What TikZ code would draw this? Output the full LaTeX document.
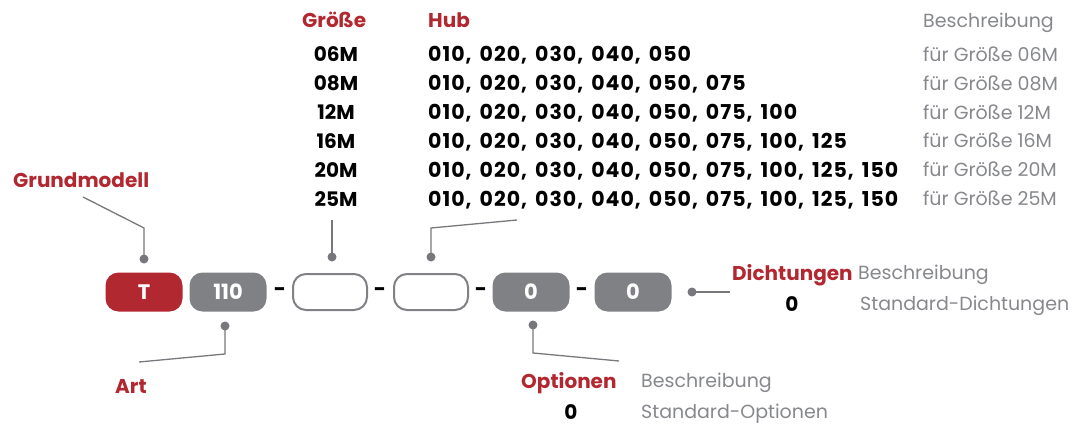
\documentclass[tikz,border=0pt]{standalone}
\usepackage{fontspec}
\setmainfont{Poppins}
\newfontfamily\hubfont[WordSpace=1.5,LetterSpace=5]{Poppins}
\definecolor{brandred}{RGB}{178,40,48}
\definecolor{boxgray}{RGB}{128,129,133}
\definecolor{txtgray}{RGB}{135,136,140}
\definecolor{linegray}{RGB}{120,120,124}
\tikzset{
  filledbox/.style={rounded corners=13pt, minimum width=77pt, minimum height=39pt, inner sep=0pt, text=white, font=\bfseries\fontsize{21}{21}\selectfont},
  redbox/.style={filledbox, fill=brandred},
  graybox/.style={filledbox, fill=boxgray},
  emptybox/.style={rounded corners=13pt, minimum width=74pt, minimum height=36pt, inner sep=0pt, draw=boxgray, line width=2pt, fill=white},
  sep/.style={inner sep=0pt, font=\bfseries\fontsize{21}{21}\selectfont},
  dotnode/.style={circle, fill=linegray, inner sep=0pt, minimum size=9pt},
  conn/.style={draw=linegray, line width=1.3pt},
  head/.style={text=brandred, inner sep=0pt, text height=14pt, text depth=0pt, font=\bfseries\fontsize{20}{20}\selectfont},
  val/.style={text=black, inner sep=0pt, text height=14pt, text depth=0pt, font=\bfseries\fontsize{20}{20}\selectfont},
  hubval/.style={val, font=\hubfont\bfseries\fontsize{20.5}{20}\selectfont},
  desc/.style={text=txtgray, inner sep=0pt, text height=13pt, text depth=0pt, font=\fontsize{19}{19}\selectfont},
}
\begin{document}
\begin{tikzpicture}[x=1pt,y=-1pt]
\useasboundingbox (0,0) rectangle (1084,425);
% header
\node[head, anchor=west] (hgr) at (302,21) {Größe};
\node[head, anchor=west] (hhub) at (428,21) {Hub};
\node[desc, anchor=west] (hdesc) at (923,21) {Beschreibung};
% rows
\foreach \s/\h [count=\i from 0] in {06M/{010, 020, 030, 040, 050},08M/{010, 020, 030, 040, 050, 075},12M/{010, 020, 030, 040, 050, 075, 100},16M/{010, 020, 030, 040, 050, 075, 100, 125},20M/{010, 020, 030, 040, 050, 075, 100, 125, 150},25M/{010, 020, 030, 040, 050, 075, 100, 125, 150}}{
  \node[val] (s\i) at (336,55+28.8*\i) {\s};
  \node[hubval, anchor=west] (h\i) at (428,55+28.8*\i) {\h};
  \node[desc, anchor=west] (d\i) at (923,55+28.8*\i) {für Größe \s};
}
% boxes
\node[redbox] (bT) at (144,292) {T};
\node[graybox] (bA) at (228,292) {110};
\node[sep] (m1) at (280,292) {-};
\node[emptybox] (bS) at (330,292) {};
\node[sep] (m2) at (380,292) {-};
\node[emptybox] (bH) at (431,292) {};
\node[sep] (m3) at (481,292) {-};
\node[graybox] (bO) at (531,292) {0};
\node[sep] (m4) at (582,292) {-};
\node[graybox] (bD) at (633,292) {0};
% labels
\node[head, anchor=west] (lg) at (13,180) {Grundmodell};
\node[head, anchor=west] (la) at (115,386) {Art};
\node[head, anchor=west] (ld) at (732,273) {Dichtungen};
\node[desc, anchor=west] (ldb) at (858,273) {Beschreibung};
\node[val] (ld0) at (792,304) {0};
\node[desc, anchor=west] (ldt) at (860,304) {Standard-Dichtungen};
\node[head, anchor=west] (lo) at (521,381) {Optionen};
\node[desc, anchor=west] (lob) at (641,381) {Beschreibung};
\node[val] (lo0) at (571,412) {0};
\node[desc, anchor=west] (lot) at (641,412) {Standard-Optionen};
% dots
\node[dotnode] (gdot) at (144,259) {};
\node[dotnode] (adot) at (225,326) {};
\node[dotnode] (sdot) at (332,257) {};
\node[dotnode] (hdot) at (431,257) {};
\node[dotnode] (odot) at (533,325) {};
\node[dotnode] (ddot) at (692,292) {};
% connector ends
\coordinate (g1) at (83,197);
\coordinate (g2) at (144,228);
\coordinate (a1) at (225,354);
\coordinate (a2) at (139,362);
\coordinate (s1) at (332,220);
\coordinate (h1) at (431,228);
\coordinate (h2) at (517,220);
\coordinate (o1) at (533,353);
\coordinate (o2) at (619,361);
\coordinate (d1) at (730,292);
\draw[conn] (g1) -- (g2) -- (gdot.center);
\draw[conn] (adot.center) -- (a1) -- (a2);
\draw[conn] (sdot.center) -- (s1);
\draw[conn] (hdot.center) -- (h1) -- (h2);
\draw[conn] (odot.center) -- (o1) -- (o2);
\draw[conn] (ddot.center) -- (d1);
\end{tikzpicture}
\end{document}
